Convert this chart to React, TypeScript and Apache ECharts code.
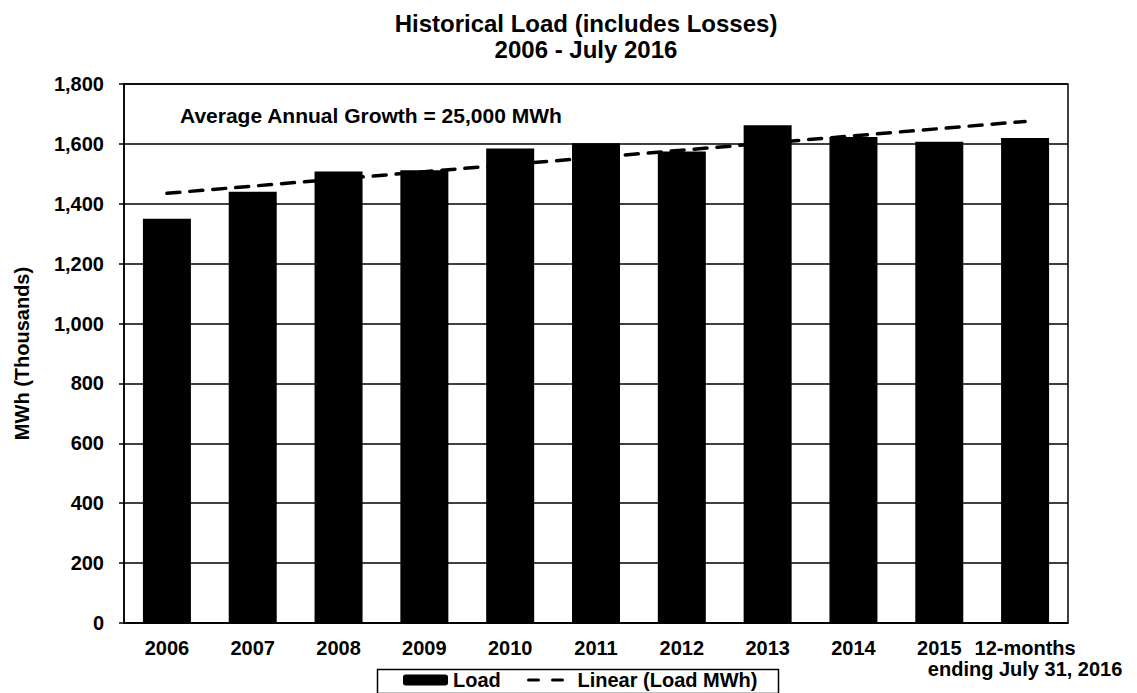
import React, { useEffect, useRef } from "react";
import * as echarts from "echarts";

const categories = ["2006", "2007", "2008", "2009", "2010", "2011", "2012", "2013", "2014", "2015", "12-months\nending July 31, 2016"];
const loadValues = [1350, 1440, 1508, 1512, 1585, 1602, 1575, 1662, 1623, 1607, 1620];
const trendValues = [1435, 1459, 1483, 1507, 1531, 1555, 1579, 1603, 1627, 1651, 1675];
const yTicks = { min: 0, max: 1800, interval: 200 };
const titleText = "Historical Load (includes Losses)\n2006 - July 2016";
const annotationText = "Average Annual Growth = 25,000 MWh";

const FONT = "'Liberation Sans', Arial, sans-serif";

export default function App() {
  const ref = useRef<HTMLDivElement>(null);
  useEffect(() => {
    document.body.style.margin = "0";
    const chart = echarts.init(ref.current!, null, { renderer: "svg" });
    chart.setOption({
      animation: false,
      backgroundColor: "#fff",
      textStyle: { fontFamily: FONT },
      title: [
        {
          text: titleText,
          left: 581,
          top: 5,
          textAlign: "center",
          textStyle: { fontFamily: FONT, fontSize: 24, fontWeight: "bold", color: "#000", lineHeight: 26, align: "center" },
        },
        {
          text: annotationText,
          left: 180,
          top: 103,
          padding: 0,
          textStyle: { fontFamily: FONT, fontSize: 21, fontWeight: 700, color: "#000", lineHeight: 24 },
        },
      ],
      grid: {
        left: 124,
        right: 69,
        top: 84,
        bottom: 70,
        show: true,
        borderColor: "#000",
        borderWidth: 1.5,
        backgroundColor: "transparent",
      },
      legend: [
        {
          data: ["Load"],
          left: 403,
          top: 670,
          padding: 0,
          itemWidth: 45,
          itemHeight: 11,
          textStyle: { fontFamily: FONT, fontSize: 20, fontWeight: "bold", color: "#000" },
        },
        {
          data: ["Linear (Load MWh)"],
          left: 527,
          top: 670,
          padding: 0,
          itemWidth: 36,
          itemHeight: 11,
          itemGap: 0,
          itemStyle: { opacity: 0 },
          lineStyle: { type: [10, 14], width: 3 },
          textStyle: { fontFamily: FONT, fontSize: 20, fontWeight: "bold", color: "#000", padding: [0, 0, 0, 8] },
        },
      ],
      graphic: [
        {
          type: "rect",
          left: 375,
          top: 667,
          shape: { width: 401, height: 24 },
          style: { fill: "none", stroke: "#000", lineWidth: 1.5 },
        },
      ],
      xAxis: {
        type: "category",
        data: categories,
        axisLine: { lineStyle: { color: "#000", width: 1.5 } },
        axisTick: { show: false },
        axisLabel: {
          color: "#000",
          fontFamily: FONT,
          fontSize: 20,
          fontWeight: "bold",
          margin: 14,
          lineHeight: 21,
          interval: 0,
          align: "center",
        },
      },
      yAxis: {
        type: "value",
        min: yTicks.min,
        max: yTicks.max,
        interval: yTicks.interval,
        name: "MWh (Thousands)",
        nameLocation: "middle",
        nameGap: 92,
        nameTextStyle: { fontFamily: FONT, fontSize: 20, fontWeight: "bold", color: "#000" },
        axisLine: { show: true, lineStyle: { color: "#000", width: 1.5 } },
        axisTick: { show: true, length: 5, lineStyle: { color: "#000", width: 1.5 } },
        splitLine: { lineStyle: { color: "#000", width: 1.5 } },
        axisLabel: {
          color: "#000",
          fontFamily: FONT,
          fontSize: 20,
          fontWeight: "bold",
          margin: 20,
          formatter: (v: number) => v.toLocaleString("en-US"),
        },
      },
      series: [
        {
          name: "Load",
          type: "bar",
          data: loadValues,
          barWidth: 48,
          itemStyle: { color: "#000" },
          z: 2,
        },
        {
          name: "Linear (Load MWh)",
          type: "line",
          data: trendValues,
          symbol: "none",
          lineStyle: { color: "#000", width: 3.5, type: [13, 10], cap: "round" },
          itemStyle: { color: "#000" },
          z: 3,
        },
      ],
    });
    return () => chart.dispose();
  }, []);
  return <div ref={ref} style={{ position: "fixed", left: 0, top: 0, width: 1137, height: 693 }} />;
}
